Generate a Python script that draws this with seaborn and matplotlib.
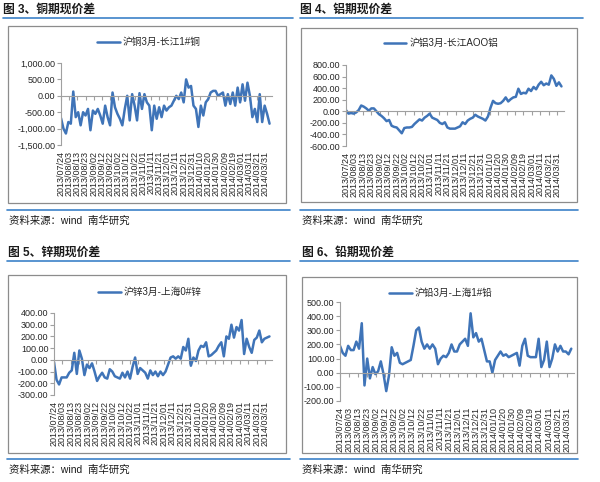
import numpy as np
import pandas as pd
import matplotlib
matplotlib.use("Agg")
import matplotlib.pyplot as plt
import matplotlib.dates as mdates
from matplotlib.patches import Rectangle
from matplotlib.lines import Line2D
from matplotlib.ticker import FuncFormatter
import seaborn as sns

# data, one value every 3 days from 2013/07/24
copper = [-680, -1000, -1150, -800, -850, 130, -650, -500, -900, -500,
          -600, -400, -1050, -450, -550, -400, -600, -850, -300, -650,
          -900, 100, -350, -550, -700, -900, -400, 0, -750, 50,
          -300, -750, 80, -400, 50, -200, -300, -1050, -300, -700,
          -350, -650, -300, -450, -350, -300, -150, 0, -100, 100,
          -200, 500, 250, 300, -300, -400, -950, -300, -600, -200,
          -100, 100, 150, 150, 0, 50, 100, -300, 50, -250,
          100, -300, 250, -200, 350, -150, 400, 0, -650, -400,
          -800, 50, -800, -300, -550, -850]
aluminium = [20, -40, -30, -40, -20, 20, 100, 80, 50, 10,
             50, 50, 0, -50, -80, -120, -170, -150, -250, -270,
             -280, -330, -380, -290, -280, -280, -270, -220, -180, -140,
             -160, -110, -80, -40, -110, -130, -150, -200, -220, -190,
             -280, -300, -300, -300, -280, -260, -190, -220, -160, -130,
             -110, -60, -90, -110, -130, -160, -90, 60, 180, 140,
             130, 140, 180, 240, 170, 210, 240, 250, 390, 300,
             320, 310, 390, 350, 420, 380, 460, 510, 450, 480,
             460, 620, 560, 440, 500, 430]
zinc = [-20, -170, -210, -150, -150, -150, -110, -90, 60, -120,
        80, 10, -130, -40, -70, -30, -100, -180, -140, -110,
        -150, -160, -80, -100, -140, -150, -160, -110, -150, -100,
        -160, -60, 20, -120, -70, -90, -110, -160, -90, -130,
        -100, -140, -100, -130, -100, -40, 20, 30, 10, 30,
        10, 110, 80, 180, -50, 20, -10, 80, 120, 110,
        150, 30, 40, 60, 80, 120, 150, 30, 200, 180,
        300, 190, 280, 250, 340, 50, 180, 110, 60, 170,
        190, 250, 150, 180, 190, 200]
lead = [190, 140, 120, 190, 160, 160, 220, 170, 350, -90,
        100, -40, 40, -10, 10, 80, -10, -130, -20, 180,
        120, 140, 70, 60, 70, 80, 90, 190, 300, 320,
        220, 170, 200, 170, 200, 170, 60, 100, 120, 110,
        140, 200, 150, 150, 200, 220, 240, 190, 420, 250,
        280, 220, 240, 160, 80, 80, 0, 90, 120, 150,
        120, 130, 110, 120, 130, 140, 50, 190, 240, 120,
        110, 110, 110, 240, 40, 90, 220, 40, 100, 200,
        150, 190, 150, 150, 130, 170]

dates = pd.date_range("2013-07-24", periods=len(copper), freq="3D")
tick_dates = pd.date_range("2013-07-24", "2014-03-31", freq="10D")
tick_labels = [d.strftime("%Y/%m/%d") for d in tick_dates]

titles = ["图 3、铜期现价差", "图 4、铝期现价差", "图 5、锌期现价差", "图 6、铅期现价差"]
names = ["沪铜3月-长江1#铜", "沪铝3月-长江AOO铝", "沪锌3月-上海0#锌", "沪铅3月-上海1#铅"]
source = "资料来源：wind  南华研究"
series = [copper, aluminium, zinc, lead]
ylims = [(-1500, 1000, 500), (-600, 800, 200), (-300, 400, 100), (-200, 500, 100)]

sns.set_style("white")
plt.rcParams["font.family"] = ["Liberation Sans", "Noto Sans CJK SC", "DejaVu Sans"]

W, H = 600, 482
fig = plt.figure(figsize=(6, 4.82), dpi=100)

blue = "#3F74B8"
rule = "#3C82C8"
grey = "#A0A0A0"


def fx(x):
    return x / W


def fy(y):
    return 1 - y / H


# pixel layout of each panel
panels = [
    dict(ax=(61, 63, 272, 145), box=(8, 26, 286, 203), title=(3, 10), top=(3, 293, 18),
         bot=(7, 290, 210), src=(9, 221), leg=(149, 42)),
    dict(ax=(346, 65, 564, 146), box=(301, 28, 577, 202), title=(300, 10), top=(300, 583, 18),
         bot=(300, 578, 210), src=(302, 221), leg=(441, 43)),
    dict(ax=(54, 313, 272, 395), box=(8, 275, 286, 453), title=(8, 253), top=(7, 290, 261),
         bot=(7, 290, 459), src=(9, 470), leg=(150, 292)),
    dict(ax=(340, 302, 574, 401), box=(302, 277, 577, 453), title=(302, 253), top=(300, 578, 261),
         bot=(300, 578, 459), src=(302, 470), leg=(441, 293)),
]

x0 = mdates.date2num(pd.Timestamp("2013-07-24"))
x1 = x0 + 258
tick_nums = mdates.date2num(tick_dates)

for p, vals, name, title, (lo, hi, step) in zip(panels, series, names, titles, ylims):
    l, t, r, b = p["ax"]
    ax = fig.add_axes([fx(l), fy(b), fx(r - l), (b - t) / H])
    df = pd.DataFrame({"date": mdates.date2num(dates), "value": vals})
    sns.lineplot(data=df, x="date", y="value", ax=ax, color=blue, linewidth=1.8, label=name)
    ax.set_xlim(x0, x1)
    ax.set_ylim(lo, hi)
    ax.set_yticks(np.arange(lo, hi + 1, step))
    ax.yaxis.set_major_formatter(FuncFormatter(lambda v, pos: f"{v:,.2f}"))
    ax.set_xlabel("")
    ax.set_ylabel("")
    ax.set_facecolor("none")
    for s in ["top", "right"]:
        ax.spines[s].set_visible(False)
    ax.spines["left"].set_color(grey)
    ax.spines["left"].set_linewidth(0.8)
    ax.spines["bottom"].set_position(("data", 0))
    ax.spines["bottom"].set_color(grey)
    ax.spines["bottom"].set_linewidth(0.8)
    ax.set_xticks(tick_nums)
    ax.tick_params(axis="x", length=3, width=0.8, color=grey, labelbottom=False, bottom=True)
    ax.tick_params(axis="y", length=3, width=0.8, color=grey, labelsize=6.5, pad=1, left=True)
    sec = ax.secondary_xaxis("bottom")
    sec.set_xticks(tick_nums, tick_labels, rotation=90)
    sec.tick_params(length=0, labelsize=6.5, pad=4)
    sec.spines["bottom"].set_visible(False)
    lx, ly = p["leg"]
    ax.legend(loc="center", bbox_to_anchor=(fx(lx), fy(ly)), bbox_transform=fig.transFigure,
              frameon=False, fontsize=7, handlelength=2.3, handletextpad=0.3)

    bl, bt, br, bb = p["box"]
    fig.patches.append(Rectangle((fx(bl), fy(bb)), fx(br - bl), (bb - bt) / H, transform=fig.transFigure,
                                 fill=False, edgecolor="#8C8C8C", linewidth=0.9, zorder=0))
    tx, ty = p["title"]
    fig.text(fx(tx), fy(ty), title, fontsize=8.5, fontweight="bold", va="center", ha="left", color="#1A1A1A")
    for xa, xb, yy in [p["top"], p["bot"]]:
        fig.lines.append(Line2D([fx(xa), fx(xb)], [fy(yy), fy(yy)], transform=fig.transFigure,
                                color=rule, linewidth=1.2))
    sx, sy = p["src"]
    fig.text(fx(sx), fy(sy), source, fontsize=7.5, va="center", ha="left", color="#1A1A1A")

fig.savefig("out.png", dpi=100, facecolor="white")
